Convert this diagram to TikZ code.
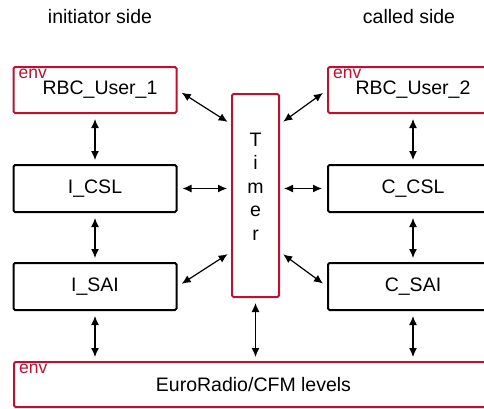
\documentclass[tikz,border=0pt]{standalone}
\usepackage{fontspec}
\setmainfont{Liberation Sans}
\usetikzlibrary{arrows.meta}
\definecolor{envred}{RGB}{190,16,48}

\begin{document}
\begin{tikzpicture}[x=1pt,y=-1pt,
    font=\fontsize{19.5}{23.5}\selectfont,
    block/.style={draw, line width=2pt, rounded corners=1.5pt,
        minimum width=163pt, minimum height=47pt, inner sep=0pt},
    envtag/.style={anchor=north west, text=envred,
        font=\fontsize{17.5}{20}\selectfont, inner xsep=6pt, inner ysep=3pt},
    envblock/.style={block, draw=envred, label={[envtag]north west:env}},
    link/.style={<->, >={Latex[length=9pt,width=8pt]}, line width=1.2pt,
        shorten <=5pt, shorten >=4pt}]
    \useasboundingbox (0,0) rectangle (484,408);
    \clip (0,0) rectangle (484,408);

    \node (init) at (100,17) {initiator side};
    \node (called) at (409,17) {called side};

    % initiator side
    \node[envblock, minimum height=46pt] (U1) at (95,90) {\hspace*{10pt}RBC\_User\_1};
    \node[block] (ICSL) at (95,188.5) {I\_CSL};
    \node[block] (ISAI) at (95,286.5) {I\_SAI};

    % called side
    \node[envblock, minimum width=170pt, minimum height=46pt] (U2) at (413,90) {RBC\_User\_2};
    \node[block, minimum width=170pt] (CCSL) at (413,188.5) {C\_CSL};
    \node[block, minimum width=170pt] (CSAI) at (413,286.5) {C\_SAI};

    \node[block, draw=envred, minimum width=47pt, minimum height=203pt,
        align=center] (Timer) at (255.5,195.5) {T\\i\\m\\e\\r\\[-5.5pt]\mbox{}};
    \node[envblock, minimum width=479pt, minimum height=45pt] (Euro)
        at (253.5,384.5) {EuroRadio/CFM levels};

    % links
    \foreach \a/\b in {U1/ICSL, ICSL/ISAI, U2/CCSL, CCSL/CSAI}
    \draw[link] (\a.south) -- (\b.north);
    \foreach \a in {ISAI, Timer, CSAI}
    \draw[link] (\a.south) -- (Euro.north -| \a.south);

    \draw[link] (ICSL.east) -- (ICSL.east -| Timer.west);
    \draw[link] (CCSL.west) -- (CCSL.west -| Timer.east);
    \draw[link] (U1.east) -- ([yshift=-31pt]Timer.north west);
    \draw[link] (U2.west) -- ([yshift=-31pt]Timer.north east);
    \draw[link] (ISAI.east) -- ([yshift=46pt]Timer.south west);
    \draw[link] (CSAI.west) -- ([yshift=46pt]Timer.south east);
\end{tikzpicture}
\end{document}
